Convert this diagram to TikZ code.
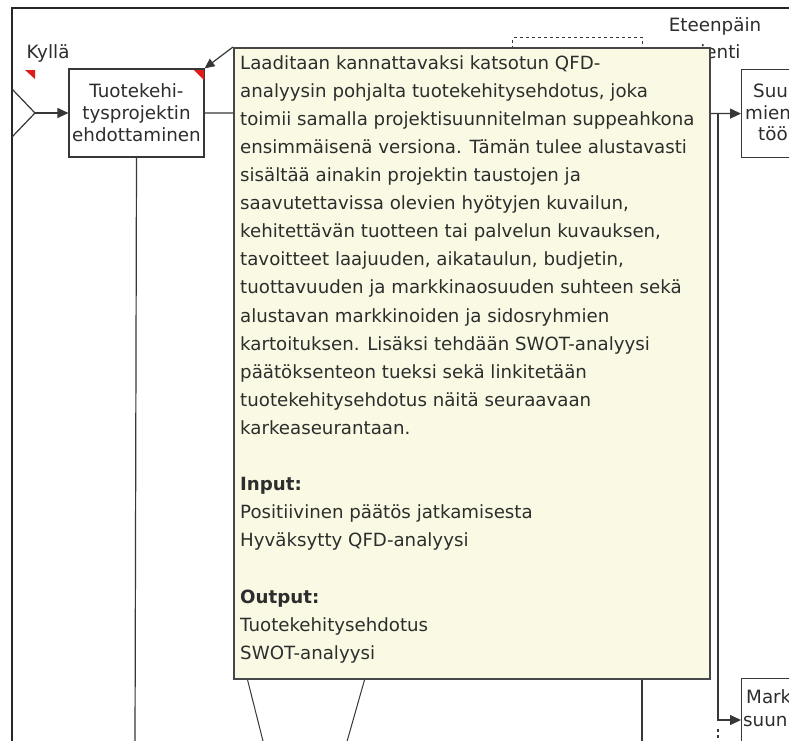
\documentclass[tikz,border=0pt]{standalone}
\usepackage{fontspec}
\setmainfont{DejaVu Sans}
\usetikzlibrary{arrows.meta}

\definecolor{ink}{RGB}{45,45,45}
\definecolor{linegray}{RGB}{55,55,55}
\definecolor{notefill}{RGB}{250,250,228}
\definecolor{flagred}{RGB}{222,28,28}

\newcommand\boxlabelfont{\fontsize{18.3}{22}\selectfont}
\newcommand\steplabelfont{\fontsize{18.3}{27}\selectfont}
\newcommand\notefont{\fontsize{18.2}{28.1}\selectfont}

\tikzset{
  frameline/.style={draw=black!85, line width=2pt},
  conn/.style={draw=linegray, line width=1.2pt},
  thinconn/.style={draw=linegray, line width=1pt},
  arr/.style={conn, -{Triangle[length=11pt,width=10pt]}},
  procbox/.style={draw=linegray, line width=1.2pt, fill=white, inner sep=0pt,
    minimum width=135pt, minimum height=88pt, align=center, text=ink, font=\boxlabelfont},
  cutbox/.style={draw=linegray, line width=1.2pt, fill=white, inner sep=0pt, anchor=north west},
  lbl/.style={text=ink, font=\boxlabelfont, inner sep=0pt},
  steplbl/.style={text=ink, font=\steplabelfont, inner sep=0pt, align=center},
  notebox/.style={draw=black!72, line width=1.5pt, fill=notefill, inner sep=0pt, anchor=north west},
  notetext/.style={text=ink, font=\notefont, inner sep=0pt, align=left, anchor=north west},
  flag/.style={fill=flagred, draw=none},
}

\begin{document}
\begin{tikzpicture}[x=1pt,y=-1pt]
\useasboundingbox (0,0) rectangle (789,740);
\clip (0,0) rectangle (789,740);
\fill[white] (0,0) rectangle (789,740);

% outer frame of the swimlane
\draw[frameline] (12,745) -- (12,8) -- (800,8);

% process boxes
\node[procbox] (tuote) at (136.5,113) {Tuotekehi-\\tysprojektin\\ehdottaminen};
\node[cutbox, minimum width=90pt, minimum height=88pt] (suu) at (741,69) {};
\node[cutbox, minimum width=90pt, minimum height=100pt] (mark) at (741,678) {};
\node[dashed, draw=linegray, line width=1.2pt, inner sep=0pt, anchor=north west,
  minimum width=130pt, minimum height=80pt] (dashbox) at (512,37) {};

% text of the boxes cut by the right edge
\node[lbl, anchor=base west] (suuA) at (753,97) {Suu};
\node[lbl, anchor=base west] (suuB) at (745,119) {mien};
\node[lbl, anchor=base west] (suuC) at (758,140) {töö};
\node[lbl, anchor=base west] (markA) at (746,703) {Mark};
\node[lbl, anchor=base west] (markB) at (743,726) {suun};

% decision outlet and the "yes" branch
\coordinate (gtip) at (35,113);
\coordinate (gtop) at (12,89);
\coordinate (gbot) at (12,137);
\draw[conn] (gtop) -- (gtip) -- (gbot);
\draw[arr] (gtip) -- (tuote.west);
\node[lbl] (kylla) at (48,53) {Kyllä};
\fill[flag] (25,70) -- (35,70) -- (35,79) -- cycle;
\fill[flag] (194,70) -- (204,70) -- (204,80) -- cycle;

% connectors
\coordinate (tdown) at (135,745);
\draw[conn] (tuote.south) -- (tdown);
\draw[arr] (tuote.east) -- (suu.west);
\coordinate (branch) at (718,113);
\coordinate (bend) at (718,720);
\draw[arr] (branch) -- (bend) -- (bend -| mark.west);
\coordinate (dashA) at (718,729);
\coordinate (dashB) at (718,745);
\draw[conn, dashed] (dashA) -- (dashB);
\coordinate (rlineA) at (642,400);
\coordinate (rlineB) at (642,745);
\draw[conn] (rlineA) -- (rlineB);
\coordinate (legLA) at (240,650);
\coordinate (legLB) at (264,745);
\coordinate (legRA) at (373,650);
\coordinate (legRB) at (346,745);
\draw[thinconn] (legLA) -- (legLB);
\draw[thinconn] (legRA) -- (legRB);

\node[steplbl] (eteen) at (715,38) {Eteenpäin\\vienti};

% description note
\node[notebox, minimum width=476pt, minimum height=631pt] (note) at (233,47) {};
\node[notetext] (notebody) at (240,49.3) {\strut Laaditaan kannattavaksi katsotun QFD-\\
analyysin pohjalta tuotekehitysehdotus, joka\\
toimii samalla projektisuunnitelman suppeahkona\\
ensimmäisenä versiona. Tämän tulee alustavasti\\
sisältää ainakin projektin taustojen ja\\
saavutettavissa olevien hyötyjen kuvailun,\\
kehitettävän tuotteen tai palvelun kuvauksen,\\
tavoitteet laajuuden, aikataulun, budjetin,\\
tuottavuuden ja markkinaosuuden suhteen sekä\\
alustavan markkinoiden ja sidosryhmien\\
kartoituksen. Lisäksi tehdään SWOT-analyysi\\
päätöksenteon tueksi sekä linkitetään\\
tuotekehitysehdotus näitä seuraavaan\\
karkeaseurantaan.\\[28.1pt]
\textbf{Input:}\\
Positiivinen päätös jatkamisesta\\
Hyväksytty QFD-analyysi\\[28.1pt]
\textbf{Output:}\\
Tuotekehitysehdotus\\
SWOT-analyysi};
\draw[conn, -{Triangle[length=10pt,width=9pt]}] (note.north west) -- (tuote.north east);
\end{tikzpicture}
\end{document}
